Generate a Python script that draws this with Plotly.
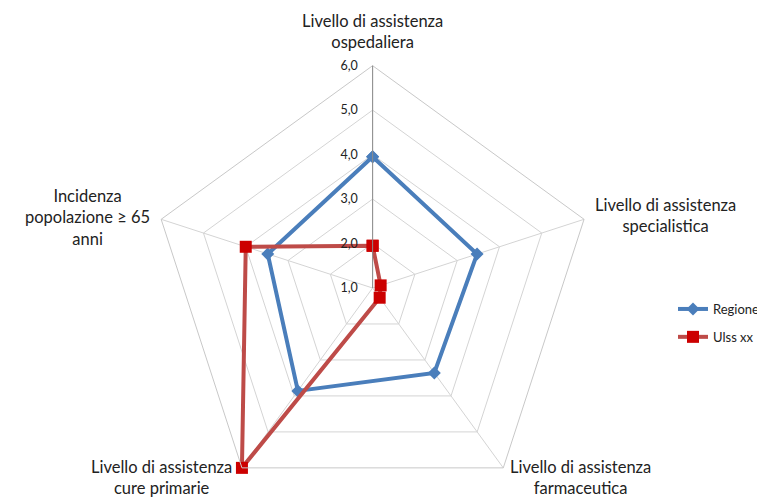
import plotly.graph_objects as go

categories = [
    "Livello di assistenza ospedaliera",
    "Livello di assistenza specialistica",
    "Livello di assistenza farmaceutica",
    "Livello di assistenza cure primarie",
    "Incidenza popolazione ≥ 65 anni",
]
category_labels = [
    "Livello di assistenza<br>ospedaliera",
    "Livello di assistenza<br>specialistica",
    "Livello di assistenza<br>farmaceutica",
    "Livello di assistenza<br>cure primarie",
    "Incidenza<br>popolazione ≥ 65<br>anni",
]
regione = [3.95, 3.47, 3.36, 3.86, 3.48]
ulss = [1.95, 1.19, 1.27, 6.0, 4.0]
radial_ticks = [1, 2, 3, 4, 5, 6]
radial_tick_labels = ["1,0", "2,0", "3,0", "4,0", "5,0", "6,0"]

# The page body adds a small offset, so the figure is shifted on screen.
OFF_X, OFF_Y = 5, 8
W, H = 757, 505
R = 225
cx, cy = 374 - OFF_X, 288 - OFF_Y  # polar centre in figure pixels

# label block centres (screen pixels) for each category label
label_pos = [(374, 31), (670, 216), (584, 477), (160, 477), (85, 218)]

fig = go.Figure()
fig.add_trace(go.Scatterpolar(
    r=regione + regione[:1], theta=categories + categories[:1],
    mode="lines+markers", name="Regione", legendgroup="a",
    line=dict(color="#4A7EBB", width=4),
    marker=dict(symbol="diamond", size=10, color="#4A7EBB"),
))
fig.add_trace(go.Scatterpolar(
    r=ulss + ulss[:1], theta=categories + categories[:1],
    mode="lines+markers", name="Ulss xx", legendgroup="b",
    line=dict(color="#BE4B48", width=4),
    marker=dict(symbol="square", size=12, color="#CC0000"),
))

for text, (px, py) in zip(category_labels, label_pos):
    fig.add_annotation(
        text=text, x=(px - OFF_X) / W, y=1 - (py - OFF_Y) / H,
        xref="paper", yref="paper",
        xanchor="center", yanchor="middle", align="center", showarrow=False,
        font=dict(family="Lato", size=16.5, color="#222222"),
    )

fig.update_layout(
    width=W, height=H,
    margin=dict(l=0, r=0, t=0, b=0),
    paper_bgcolor="white",
    font=dict(family="Lato", size=14, color="#222222"),
    polar=dict(
        bgcolor="white",
        gridshape="linear",
        domain=dict(x=[(cx - R) / W, (cx + R) / W], y=[(H - cy - R) / H, (H - cy + R) / H]),
        angularaxis=dict(
            rotation=90, direction="clockwise", type="category",
            categoryorder="array", categoryarray=categories,
            showticklabels=False,
            showline=True, linecolor="#C8C8C8", linewidth=1,
            gridcolor="#D4D4D4", gridwidth=1, ticks="",
        ),
        radialaxis=dict(
            range=[1, 6], tickvals=radial_ticks, ticktext=radial_tick_labels,
            angle=90, tickangle=90, side="counterclockwise",
            showline=True, linecolor="#8C8C8C", linewidth=1,
            gridcolor="#D4D4D4", gridwidth=1,
            ticks="outside", ticklen=10, tickcolor="rgba(0,0,0,0)",
            tickfont=dict(size=12.5, color="#222222"),
        ),
    ),
    legend=dict(
        x=673 / W, y=1 - 286 / H, xanchor="left", yanchor="top",
        font=dict(size=13, color="#222222"), tracegroupgap=8,
        bgcolor="rgba(0,0,0,0)",
    ),
)

fig.write_html("out.html")
